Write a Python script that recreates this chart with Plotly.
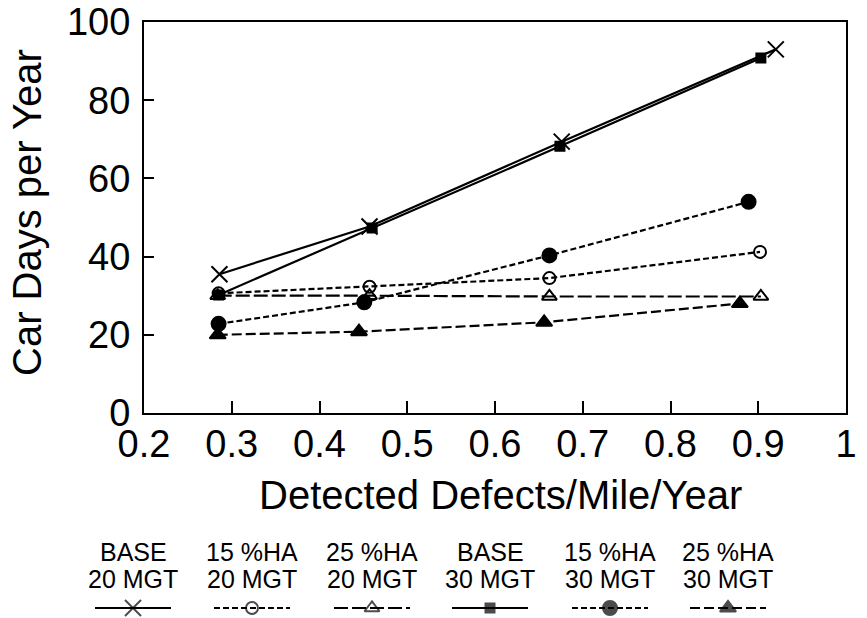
import plotly.graph_objects as go

# ---- data ----
x_base20 = [0.286, 0.457, 0.676, 0.920]
y_base20 = [35.5, 47.7, 69.4, 93.0]

x_ha15_20 = [0.285, 0.457, 0.662, 0.902]
y_ha15_20 = [30.6, 32.3, 34.5, 41.2]

x_ha25_20 = [0.284, 0.457, 0.662, 0.903]
y_ha25_20 = [30.0, 30.0, 29.8, 29.8]

x_base30 = [0.285, 0.460, 0.674, 0.903]
y_base30 = [30.2, 47.3, 68.2, 90.8]

x_ha15_30 = [0.285, 0.451, 0.662, 0.889]
y_ha15_30 = [22.8, 28.3, 40.3, 54.0]

x_ha25_30 = [0.284, 0.445, 0.656, 0.879]
y_ha25_30 = [20.0, 20.8, 23.2, 28.0]

x_ticks = [0.2, 0.3, 0.4, 0.5, 0.6, 0.7, 0.8, 0.9, 1.0]
x_tick_text = ["0.2", "0.3", "0.4", "0.5", "0.6", "0.7", "0.8", "0.9", "1"]
y_ticks = [0, 20, 40, 60, 80, 100]

legend_top = ["BASE", "15 %HA", "25 %HA", "BASE", "15 %HA", "25 %HA"]
legend_bottom = ["20 MGT", "20 MGT", "20 MGT", "30 MGT", "30 MGT", "30 MGT"]

FONT = "Liberation Sans, Arial, Helvetica, sans-serif"
W, H = 867, 618

# series styles: (x, y, dash, symbol, marker size)
series = [
    (x_base20, y_base20, "solid", "x-thin-open", 16),
    (x_ha15_20, y_ha15_20, "6px,3px", "circle-open", 12),
    (x_ha25_20, y_ha25_20, "14px,4px", "triangle-up-open", 13),
    (x_base30, y_base30, "solid", "square", 9),
    (x_ha15_30, y_ha15_30, "6px,3px", "circle", 14),
    (x_ha25_30, y_ha25_30, "10px,4px", "triangle-up", 14),
]

fig = go.Figure()

for xs, ys, dash, sym, msize in series:
    fig.add_trace(go.Scatter(
        x=xs, y=ys, mode="lines+markers",
        line=dict(color="black", width=2.2, dash=dash),
        marker=dict(symbol=sym, size=msize, color="black",
                    line=dict(color="black", width=2)),
        showlegend=False, xaxis="x", yaxis="y", cliponaxis=False,
    ))

# key below the chart: line sample with marker, two text lines above
key_x = [133, 252, 372, 490, 610, 728]
half = 38
for cx, (xs, ys, dash, sym, msize) in zip(key_x, series):
    fig.add_trace(go.Scatter(
        x=[cx - half, cx, cx + half], y=[608, 608, 608], mode="lines+markers",
        line=dict(color="black", width=2, dash=dash),
        marker=dict(symbol=sym, size=[0, msize, 0], color="black",
                    line=dict(color="black", width=2)),
        showlegend=False, xaxis="x2", yaxis="y2", cliponaxis=False,
    ))

annotations = []
for cx, t1, t2 in zip(key_x, legend_top, legend_bottom):
    annotations.append(dict(x=cx, y=552, xref="x2", yref="y2", text=t1,
                            showarrow=False, font=dict(size=25, color="black", family=FONT)))
    annotations.append(dict(x=cx, y=579, xref="x2", yref="y2", text=t2,
                            showarrow=False, font=dict(size=25, color="black", family=FONT)))

# axis titles
annotations.append(dict(x=27, y=213, xref="x2", yref="y2", text="Car Days per Year",
                        textangle=-90, showarrow=False,
                        font=dict(size=40, color="black", family=FONT)))
annotations.append(dict(x=500, y=495, xref="x2", yref="y2", text="Detected Defects/Mile/Year",
                        showarrow=False, font=dict(size=40, color="black", family=FONT)))

x0, x1 = 144 / W, 846 / W
y0, y1 = (H - 413) / H, (H - 22) / H

fig.update_layout(
    width=W, height=H,
    margin=dict(l=0, r=0, t=0, b=0),
    paper_bgcolor="white", plot_bgcolor="rgba(0,0,0,0)",
    font=dict(family=FONT, color="black"),
    xaxis=dict(domain=[x0, x1], range=[0.2, 1.0], tickvals=x_ticks, ticktext=x_tick_text,
               ticks="inside", ticklen=12, tickwidth=1.5, tickcolor="black",
               showline=True, linewidth=2, linecolor="black", mirror=True,
               showgrid=False, zeroline=False, tickfont=dict(size=38),
               ticklabelstandoff=-4, automargin=False),
    yaxis=dict(domain=[y0, y1], range=[0, 100], tickvals=y_ticks,
               ticks="inside", ticklen=10, tickwidth=1.5, tickcolor="black",
               showline=True, linewidth=2, linecolor="black", mirror=True,
               showgrid=False, zeroline=False, tickfont=dict(size=38),
               ticklabelstandoff=4, automargin=False),
    xaxis2=dict(domain=[0, 1], range=[0, W], visible=False, fixedrange=True),
    yaxis2=dict(domain=[0, 1], range=[H, 0], visible=False, fixedrange=True),
    annotations=annotations,
)

fig.write_html("out.html")
